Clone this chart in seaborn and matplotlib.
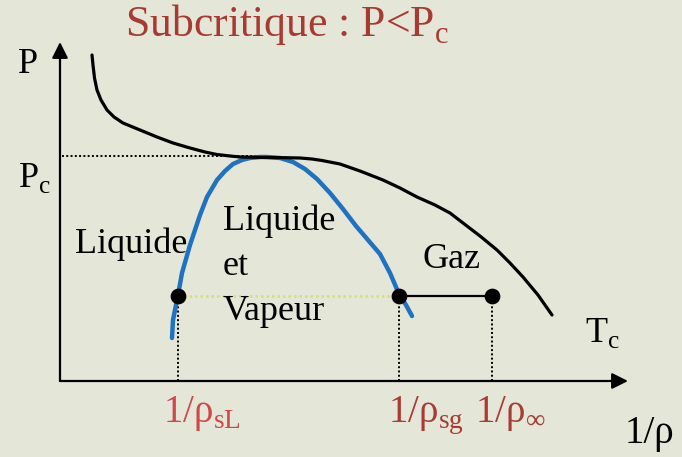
import matplotlib
matplotlib.use('Agg')
import matplotlib.pyplot as plt
import seaborn as sns
import pandas as pd

# isotherme T = Tc, abscisse 1/rho, ordonnee P
iso_v = [0.32, 0.33, 0.345, 0.37, 0.41, 0.47, 0.54, 0.63, 0.80, 0.97, 1.13, 1.30,
         1.45, 1.57, 1.70, 1.80, 1.95, 2.07, 2.25, 2.40, 2.52, 2.62, 2.80, 3.00,
         3.23, 3.40, 3.57, 3.75, 3.90, 4.03, 4.20, 4.37, 4.50, 4.63, 4.78, 4.92]
iso_p = [3.26, 3.16, 3.03, 2.91, 2.81, 2.71, 2.64, 2.58, 2.51, 2.44, 2.38, 2.33,
         2.29, 2.265, 2.25, 2.24, 2.237, 2.235, 2.233, 2.23, 2.22, 2.205, 2.17, 2.10,
         2.01, 1.93, 1.84, 1.76, 1.68, 1.58, 1.45, 1.31, 1.18, 1.04, 0.86, 0.66]

# courbe de saturation (cloche)
dome_v = [1.12, 1.13, 1.18, 1.22, 1.30, 1.35, 1.40, 1.47, 1.57, 1.65, 1.73, 1.82,
          1.90, 2.00, 2.07, 2.20, 2.33, 2.45, 2.57, 2.70, 2.83, 2.96, 3.08, 3.20,
          3.30, 3.39, 3.46, 3.52]
dome_p = [0.43, 0.61, 0.86, 1.08, 1.36, 1.51, 1.66, 1.84, 2.01, 2.10, 2.17, 2.21,
          2.23, 2.24, 2.24, 2.23, 2.19, 2.12, 2.02, 1.88, 1.72, 1.55, 1.41, 1.27,
          1.08, 0.87, 0.76, 0.65]

p_c = 2.25
p_sat = 0.85
v_marks = [1.18, 3.39, 4.32]   # 1/rho_sL, 1/rho_sg, 1/rho_inf
v_labels = ['1/ρ$_\\mathregular{sL}$', '1/ρ$_\\mathregular{sg}$', '1/ρ$_\\mathregular{∞}$']
v_label_colors = ['#d04848', '#a83c34', '#a83c34']

bg = '#e4e6d8'
blue = '#1f72c0'
red_title = '#a83a32'

sns.set_theme(style='white', rc={'axes.facecolor': bg, 'figure.facecolor': bg, 'text.color': 'black'})
plt.rcParams['font.family'] = ['Liberation Serif', 'DejaVu Serif']

fig = plt.figure(figsize=(6.82, 4.57), dpi=100)
ax = fig.add_axes([0, 0, 1, 1])
ax.set_xlim(-0.60, 6.22)
ax.set_ylim(-0.76, 3.81)
ax.axis('off')

# axes avec fleches
ax.annotate('', xy=(0, 3.39), xytext=(0, 0),
            arrowprops=dict(arrowstyle='-|>', color='black', lw=1.6, mutation_scale=24, shrinkA=0, shrinkB=0))
ax.annotate('', xy=(5.68, 0), xytext=(0, 0),
            arrowprops=dict(arrowstyle='-|>', color='black', lw=1.6, mutation_scale=24, shrinkA=0, shrinkB=0))

# pointilles
dot = (0, (1, 1.2))
ax.plot([0.02, 2.07], [p_c, p_c], color='black', lw=1.4, ls=dot)
for v in v_marks:
    ax.plot([v, v], [0, p_sat], color='black', lw=1.4, ls=dot)
ax.plot([v_marks[0], v_marks[1]], [p_sat, p_sat], color='#d8de78', lw=1.8, ls=dot)
ax.plot([v_marks[1], v_marks[2]], [p_sat, p_sat], color='black', lw=1.6)

sns.lineplot(x=dome_v, y=dome_p, sort=False, estimator=None, color=blue, lw=3.2, ax=ax)
sns.lineplot(x=iso_v, y=iso_p, sort=False, estimator=None, color='black', lw=2.3, ax=ax)

pts = pd.DataFrame({'v': v_marks, 'p': [p_sat] * 3})
sns.scatterplot(data=pts, x='v', y='p', color='black', s=110, marker='o', edgecolor='black', zorder=5, ax=ax)

fs = 26
ax.text(0.65, 3.45, 'Subcritique : P<P$_\\mathregular{c}$', color=red_title, fontsize=31.5, ha='left', va='baseline')
ax.text(-0.42, 3.08, 'P', fontsize=fs, ha='left', va='baseline')
ax.text(-0.42, 1.94, 'P$_\\mathregular{c}$', fontsize=fs, ha='left', va='baseline')
ax.text(0.15, 1.28, 'Liquide', fontsize=fs, ha='left', va='baseline')
ax.text(1.63, 1.51, 'Liquide', fontsize=fs, ha='left', va='baseline')
ax.text(1.63, 1.06, 'et', fontsize=fs, ha='left', va='baseline')
ax.text(1.63, 0.61, 'Vapeur', fontsize=fs, ha='left', va='baseline')
ax.text(3.62, 1.13, 'Gaz', fontsize=fs, ha='left', va='baseline')
ax.text(5.25, 0.39, 'T$_\\mathregular{c}$', fontsize=fs, ha='left', va='baseline')
ax.text(5.65, -0.62, '1/ρ', fontsize=28, ha='left', va='baseline')
for x0, lab, col in zip([1.03, 3.28, 4.15], v_labels, v_label_colors):
    ax.text(x0, -0.41, lab, fontsize=28, color=col, ha='left', va='baseline')

fig.savefig('out.png', dpi=100, facecolor=bg)
